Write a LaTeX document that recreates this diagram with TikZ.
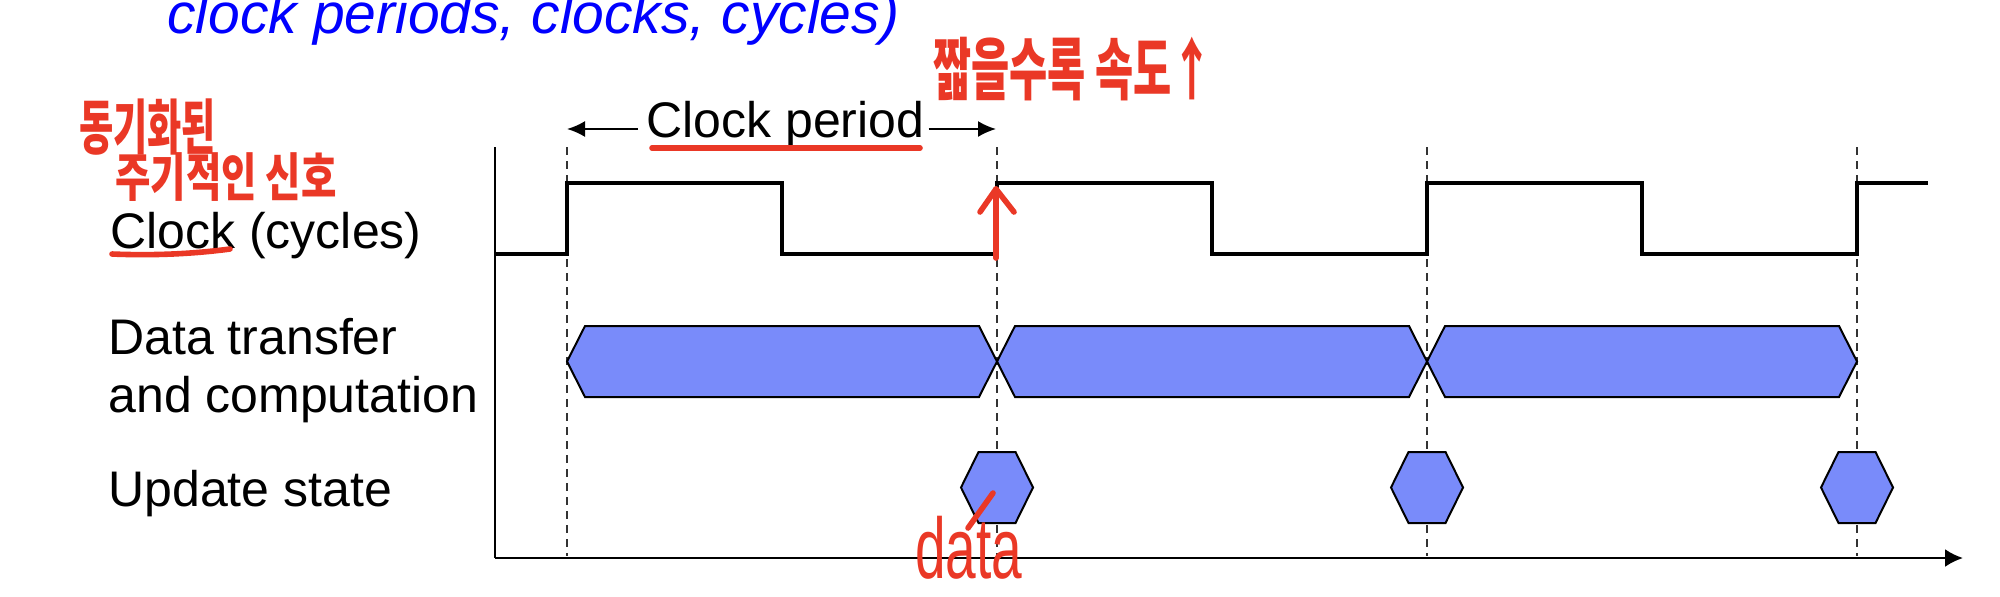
\documentclass[tikz,border=0pt]{standalone}
\usepackage{fontspec}
\setmainfont{Liberation Sans}
\newfontfamily\krfont{Noto Sans CJK KR}
\usetikzlibrary{arrows.meta}
\definecolor{barblue}{RGB}{121,139,250}
\definecolor{penred}{RGB}{234,56,38}
\definecolor{titleblue}{RGB}{0,0,255}
\begin{document}
\begin{tikzpicture}[x=0.5pt,y=-0.5pt,
  lbl/.style={anchor=base west, inner sep=0pt, font=\fontsize{25}{30}\selectfont},
  hand/.style={anchor=north west, inner sep=0pt, text=penred},
  pen/.style={draw=penred, line width=2.8pt, line cap=round, line join=round},
  axis/.style={draw=black, line width=1.25pt},
  guide/.style={draw=black!80, line width=1pt, dash pattern=on 4pt off 3pt},
  wave/.style={draw=black, line width=2pt, line join=miter},
  barshape/.style={draw=black, line width=1pt, fill=barblue, line join=miter},
  dim/.style={draw=black, line width=1pt, -{Latex[length=9pt,width=8pt]}}
]
\useasboundingbox (0,0) rectangle (2000,596);

% title
\node[anchor=base west, inner sep=0pt, text=titleblue,
  font=\fontsize{28.5}{34}\selectfont\itshape] (title) at (167,33)
  {clock periods, clocks, cycles)};

% labels
\node[lbl] (lclock) at (110,248) {Clock (cycles)};
\node[lbl] (ldata1) at (108,354) {Data transfer};
\node[lbl] (ldata2) at (108,412) {and computation};
\node[lbl] (lupd) at (108,506) {Update state};

% guide lines
\foreach \gx/\gn in {567/g1,997/g2,1427/g3,1857/g4}{
  \coordinate (\gn top) at (\gx,147);
  \coordinate (\gn bot) at (\gx,556);
  \draw[guide] (\gn top) -- (\gn bot);
}

% axes
\coordinate (origin) at (495,558);
\coordinate (ytop) at (495,147);
\coordinate (xend) at (1963,558);
\draw[axis] (ytop) -- (origin);
\draw[axis, -{Latex[length=9pt,width=9pt]}] (origin) -- (xend);

% clock waveform
\draw[wave] (495,254) -- (567,254) -- (567,183) -- (782,183) -- (782,254)
  -- (997,254) -- (997,183) -- (1212,183) -- (1212,254)
  -- (1427,254) -- (1427,183) -- (1642,183) -- (1642,254)
  -- (1857,254) -- (1857,183) -- (1928,183);

% data transfer bars
\foreach \a/\b in {567/997,997/1427,1427/1857}{
  \draw[barshape] (\a,361.5) -- (\a+18,326) -- (\b-18,326) -- (\b,361.5)
    -- (\b-18,397) -- (\a+18,397) -- cycle;
}

% update state hexagons
\foreach \c in {997,1427,1857}{
  \draw[barshape] (\c-36,487.5) -- (\c-18.5,452) -- (\c+18.5,452) -- (\c+36,487.5)
    -- (\c+18.5,523) -- (\c-18.5,523) -- cycle;
}

% clock period dimension
\node[anchor=base west, inner sep=0pt, font=\fontsize{25}{30}\selectfont] (lperiod) at (646,137) {Clock period};
\coordinate (pl) at (567,129);
\coordinate (pr) at (996,129);
\draw[dim] (lperiod.west |- pl) ++(-8,0) -- (pl);
\draw[dim] (lperiod.east |- pr) ++(4,0) -- (pr);

% red annotations
\node[hand, xscale=0.62, font=\krfont\bfseries\fontsize{30}{34}\selectfont] (k1) at (79,98) {동기화된};
\node[hand, xscale=0.74, font=\krfont\bfseries\fontsize{26}{30}\selectfont] (k2) at (115,152) {주기적인 신호};
\node[hand, xscale=0.61, font=\krfont\bfseries\fontsize{34}{38}\selectfont] (k3) at (933,37) {짧을수록 속도↑};
\node[hand, anchor=base west, xscale=0.64, font=\fontsize{43}{47}\selectfont] (kdata) at (915,578) {data};

\draw[pen] (652,148) -- (920,148);
\draw[pen] (112,254) .. controls (160,256) and (200,253) .. (230,249);
\coordinate (rarrowbot) at (996,258);
\coordinate (rarrowtop) at (996,189);
\draw[pen] (rarrowbot) -- (rarrowtop);
\draw[pen] (980,212) -- (rarrowtop) -- (1014,212);
\coordinate (dl1) at (968,528);
\coordinate (dl2) at (993,493);
\draw[pen] (dl1) -- (dl2);
\end{tikzpicture}
\end{document}
